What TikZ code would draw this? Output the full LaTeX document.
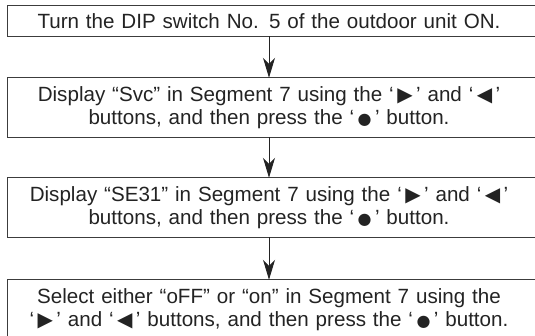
\documentclass[tikz,border=0pt]{standalone}
\usepackage{fontspec}
\setmainfont{Liberation Sans}
\newfontfamily\symfont{DejaVu Sans}
\usetikzlibrary{arrows.meta}
\definecolor{LineGray}{RGB}{60,60,60}
\definecolor{TextGray}{RGB}{35,35,35}
\newcommand{\btnR}{\,{\symfont\fontsize{20}{20}\selectfont ▶}\,}
\newcommand{\btnL}{\,{\symfont\fontsize{20}{20}\selectfont ◀}\,}
\newcommand{\btnO}{\,{\symfont\fontsize{16}{16}\selectfont ●}\,}

\begin{document}
\begin{tikzpicture}[x=1pt, y=1pt,
    stepbox/.style={text width=522pt, align=center, inner xsep=0pt,
      inner ysep=0pt, text=TextGray, font=\fontsize{20.6}{23}\selectfont},
    frame/.style={draw=LineGray, line width=1.1pt},
    flow/.style={-{Stealth[length=20pt, width=12pt, inset=6pt]},
      line width=1pt, TextGray}]
    \useasboundingbox (0,0) rectangle (535,335);

    % steps
    \node[stepbox, minimum height=30pt] (dip) at (269,314)
      {Turn the DIP switch No. 5 of the outdoor unit ON.};
    \node[stepbox, minimum height=59pt] (svc) at (269,227.5)
      {Display “Svc” in Segment 7 using the ‘\btnR’ and ‘\btnL’\\
       buttons, and then press the ‘\btnO’ button.};
    \node[stepbox, minimum height=59pt] (se31) at (269,127.5)
      {Display “SE31” in Segment 7 using the ‘\btnR’ and ‘\btnL’\\
       buttons, and then press the ‘\btnO’ button.};
    \node[stepbox, minimum height=59pt] (onoff) at (269,25.5)
      {Select either “oFF” or “on” in Segment 7 using the\\
       ‘\btnR’ and ‘\btnL’ buttons, and then press the ‘\btnO’ button.};

    % frames run past the right edge
    \foreach \n in {dip,svc,se31,onoff}
      \draw[frame] (\n.south west) rectangle ([xshift=30pt]\n.north east);

    % arrows
    \draw[flow] (dip) -- (svc);
    \draw[flow] (svc) -- (se31);
    \draw[flow] (se31) -- (onoff);
  \end{tikzpicture}
\end{document}
